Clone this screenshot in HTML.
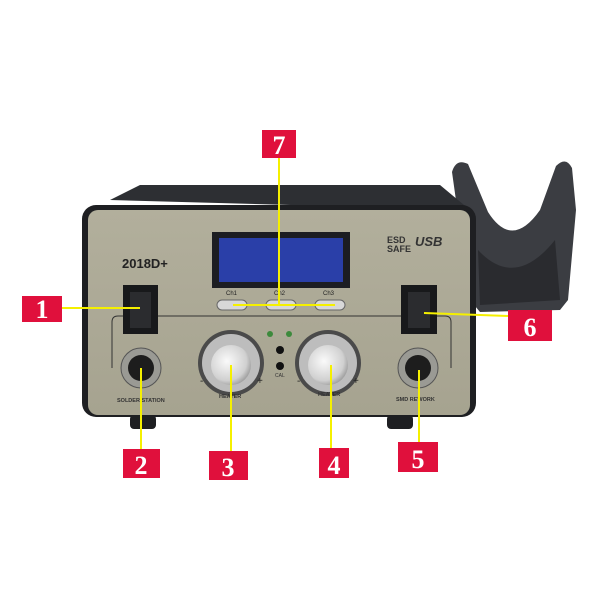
<!DOCTYPE html>
<html><head><style>body{margin:0;background:#fff}svg{display:block}</style></head><body>
<svg width="600" height="600" viewBox="0 0 600 600" xmlns="http://www.w3.org/2000/svg" font-family="Liberation Sans, sans-serif">
<defs>
<radialGradient id="kn" cx="0.4" cy="0.4" r="0.7"><stop offset="0" stop-color="#fafafa"/><stop offset="0.7" stop-color="#d0d0d0"/><stop offset="1" stop-color="#8a8a8a"/></radialGradient>
<linearGradient id="pn" x1="0" y1="0" x2="0" y2="1"><stop offset="0" stop-color="#b2af9c"/><stop offset="1" stop-color="#a6a390"/></linearGradient>
</defs>
<rect width="600" height="600" fill="#fff"/>
<!-- holder -->
<path d="M452 172 Q456 158 468 164 L488 212 Q512 250 540 210 L556 166 Q566 156 572 168 L576 210 L568 300 L560 310 L480 312 L470 300 Z" fill="#3b3d42"/>
<path d="M478 250 Q515 290 555 240 L560 300 L480 305 Z" fill="#2a2b2f"/>
<!-- top of case -->
<path d="M110 200 L140 185 L440 185 L470 210 Z" fill="#2d2f33"/>
<!-- case outer -->
<rect x="82" y="205" width="394" height="212" rx="14" fill="#1e1f22"/>
<!-- front panel -->
<rect x="88" y="210" width="382" height="205" rx="10" fill="url(#pn)"/>
<!-- display -->
<rect x="212" y="232" width="138" height="56" fill="#1c1d22"/>
<rect x="219" y="238" width="124" height="44" fill="#2a3fa8"/>
<text x="122" y="268" font-size="13" font-weight="bold" fill="#222">2018D+</text>
<text x="387" y="243" font-size="9" font-weight="bold" fill="#333">ESD</text>
<text x="387" y="252" font-size="9" font-weight="bold" fill="#333">SAFE</text>
<text x="415" y="246" font-size="13" font-weight="bold" font-style="italic" fill="#333">USB</text>
<!-- buttons -->
<text x="226" y="295" font-size="6" fill="#222">Ch1</text>
<text x="274" y="295" font-size="6" fill="#222">Ch2</text>
<text x="323" y="295" font-size="6" fill="#222">Ch3</text>
<rect x="217" y="300" width="30" height="10" rx="5" fill="#d8d8d8" stroke="#666"/>
<rect x="266" y="300" width="30" height="10" rx="5" fill="#d8d8d8" stroke="#666"/>
<rect x="315" y="300" width="30" height="10" rx="5" fill="#d8d8d8" stroke="#666"/>
<!-- panel outline -->
<path d="M112 368 L112 322 Q112 316 118 316 L445 316 Q451 316 451 322 L451 368" fill="none" stroke="#333" stroke-width="1"/>
<!-- switches -->
<rect x="123" y="285" width="35" height="49" fill="#18191b"/>
<rect x="130" y="292" width="21" height="36" fill="#2b2c2f"/>
<rect x="401" y="285" width="36" height="49" fill="#18191b"/>
<rect x="408" y="292" width="22" height="36" fill="#2b2c2f"/>
<!-- knobs -->
<circle cx="231" cy="363" r="33" fill="#4a4a4a" />
<circle cx="231" cy="363" r="29" fill="#bdbdbd"/>
<circle cx="231" cy="365" r="20" fill="url(#kn)"/>
<circle cx="328" cy="363" r="33" fill="#4a4a4a"/>
<circle cx="328" cy="363" r="29" fill="#bdbdbd"/>
<circle cx="328" cy="365" r="20" fill="url(#kn)"/>
<text x="200" y="384" font-size="10" fill="#222">-</text><text x="257" y="384" font-size="10" fill="#222">+</text>
<text x="297" y="384" font-size="10" fill="#222">-</text><text x="353" y="384" font-size="10" fill="#222">+</text>
<text x="219" y="398" font-size="5.5" font-weight="bold" fill="#333">HEATER</text>
<text x="318" y="396" font-size="5.5" font-weight="bold" fill="#333">HEATER</text>
<circle cx="270" cy="334" r="3" fill="#3c8a3c"/><circle cx="289" cy="334" r="3" fill="#3c8a3c"/>
<circle cx="280" cy="350" r="4" fill="#111"/><circle cx="280" cy="366" r="4" fill="#111"/>
<text x="275" y="377" font-size="5" fill="#333">CAL</text>
<!-- connectors -->
<circle cx="141" cy="368" r="20" fill="#9a9a94" stroke="#555"/>
<circle cx="141" cy="368" r="13" fill="#1d1d1d"/>
<circle cx="418" cy="368" r="20" fill="#9a9a94" stroke="#555"/>
<circle cx="418" cy="368" r="13" fill="#1d1d1d"/>
<text x="117" y="402" font-size="5.5" font-weight="bold" fill="#333">SOLDER STATION</text>
<text x="396" y="401" font-size="5.5" font-weight="bold" fill="#333">SMD REWORK</text>
<!-- feet -->
<rect x="130" y="415" width="26" height="14" rx="4" fill="#1e1f22"/>
<rect x="387" y="415" width="26" height="14" rx="4" fill="#1e1f22"/>
<!-- yellow lines -->
<g stroke="#f5f000" stroke-width="2" fill="none">
<line x1="62" y1="308" x2="140" y2="308"/>
<line x1="279" y1="157" x2="279" y2="305"/>
<line x1="233" y1="305" x2="335" y2="305"/>
<line x1="424" y1="313" x2="508" y2="316"/>
<line x1="141" y1="368" x2="141" y2="449"/>
<line x1="231" y1="365" x2="231" y2="451"/>
<line x1="331" y1="365" x2="331" y2="448"/>
<line x1="419" y1="370" x2="419" y2="442"/>
</g>
<!-- labels -->
<g fill="#e0103c">
<rect x="22" y="296" width="40" height="26"/>
<rect x="262" y="130" width="34" height="28"/>
<rect x="508" y="310" width="44" height="31"/>
<rect x="123" y="449" width="37" height="29"/>
<rect x="209" y="451" width="39" height="29"/>
<rect x="319" y="448" width="30" height="30"/>
<rect x="398" y="442" width="40" height="30"/>
</g>
<g fill="#fff" font-family="Liberation Serif, serif" font-weight="bold" font-size="26" text-anchor="middle">
<text x="42" y="318">1</text>
<text x="279" y="154">7</text>
<text x="530" y="336">6</text>
<text x="141" y="474">2</text>
<text x="228" y="476">3</text>
<text x="334" y="474">4</text>
<text x="418" y="468">5</text>
</g>
</svg>
</body></html>
